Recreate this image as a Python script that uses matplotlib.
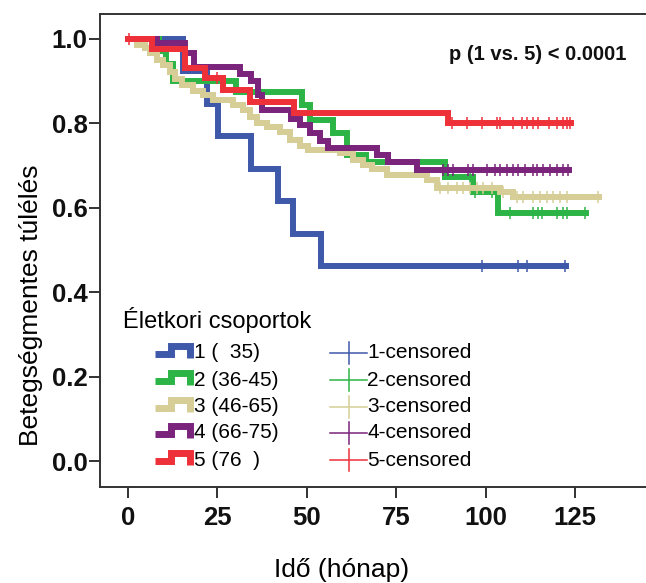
import numpy as np
import matplotlib
matplotlib.use('Agg')
import matplotlib.pyplot as plt
from matplotlib.lines import Line2D

plt.rcParams['font.family'] = ['Liberation Sans', 'DejaVu Sans']

W, H = 646, 583

labels = ['1 (  35)', '2 (36-45)', '3 (46-65)', '4 (66-75)', '5 (76  )']
colors = ['#3E58AA', '#2DB446', '#D6CE96', '#7A247C', '#EE3038']

# event times (months) and survival level after each event
g1_t = [0, 15.5, 22, 25.2, 34.5, 42, 46, 54]
g1_s = [1.0, 0.923, 0.846, 0.769, 0.692, 0.615, 0.538, 0.462]
g1_end = 122.6
g1_cens = [98.9, 109.1, 111.5, 122.2]

g2_t = [0, 8.6, 10.5, 12.6, 30.2, 48.7, 51, 57.3, 61.2, 66.6, 88.7, 96.5, 103.5]
g2_s = [1.0, 0.97, 0.94, 0.90, 0.873, 0.843, 0.807, 0.776, 0.724, 0.708, 0.672, 0.637, 0.587]
g2_end = 128.2
g2_cens = [95.6, 97, 101.8, 106.8, 113.3, 114.7, 115.8, 120, 121.7, 122.7, 127.8]

g3_t = [0, 2.5, 4.8, 6.2, 8.1, 9.8, 11.7, 13.1, 15.1, 18.2, 21, 23.8, 29.4, 32.2, 34.1,
        36.1, 38.9, 42.5, 45.3, 48.1, 50.3, 59.3, 62.9, 65.7, 68.2, 72.4, 83.6, 86.4, 104, 107.7]
g3_s = [1.0, 0.985, 0.977, 0.965, 0.95, 0.937, 0.92, 0.905, 0.89, 0.875, 0.866, 0.854, 0.843, 0.83, 0.815,
        0.80, 0.79, 0.779, 0.76, 0.745, 0.736, 0.729, 0.712, 0.70, 0.69, 0.677, 0.665, 0.645, 0.637, 0.625]
g3_end = 131.6
g3_cens = [87.2, 89.5, 92, 93.7, 95.6, 97.5, 99.3, 101.8, 104.9, 108.8, 110.5, 113.3, 115.2,
           117.2, 118.8, 120.8, 122.8, 131.4]

g4_t = [0, 8, 16, 18.5, 31.3, 34.5, 36.3, 37.5, 45.6, 48, 50.9, 53.7, 56, 69.6, 72.7, 80.8]
g4_s = [1.0, 0.989, 0.966, 0.933, 0.915, 0.90, 0.867, 0.83, 0.81, 0.795, 0.776, 0.757, 0.741, 0.724, 0.708, 0.689]
g4_end = 123.2
g4_cens = [88, 89.5, 91, 95, 96.5, 100.4, 102.6, 104, 106, 107.7, 109, 111, 113.3, 114.4,
           116, 118, 120, 121.7, 123]

g5_t = [0, 6.8, 16, 21.5, 26.5, 34, 46.5, 89.5]
g5_s = [1.0, 0.975, 0.93, 0.906, 0.878, 0.85, 0.824, 0.80]
g5_end = 123.8
g5_cens = [0.3, 25, 90.5, 94.7, 98.9, 103.1, 104.0, 107.7, 110.1, 111.5, 113.3, 114.7,
           117.6, 119.9, 121.7, 122.7, 123.6]

curves = [(g1_t, g1_s, g1_end, g1_cens), (g2_t, g2_s, g2_end, g2_cens),
          (g3_t, g3_s, g3_end, g3_cens), (g4_t, g4_s, g4_end, g4_cens),
          (g5_t, g5_s, g5_end, g5_cens)]

fig = plt.figure(figsize=(W / 100, H / 100), dpi=100)
ax = fig.add_axes([100 / W, 1 - 487 / H, 1 - 100 / W, (487 - 14) / H])

for (t, s, end, cens), col in zip(curves, colors):
    tt = np.append(t, end)
    ss = np.append(s, s[-1])
    ax.step(tt, ss, where='post', color=col, lw=4.3, solid_joinstyle='miter')
    idx = np.searchsorted(t, cens, side='right') - 1
    ax.plot(cens, np.array(s)[idx], ls='none', marker='|', ms=9, mew=1.1, color=col)

ax.set_xlim(-7.83, 144.85)
ax.set_ylim(-0.0615, 1.058)
ax.set_xticks([0, 25, 50, 75, 100, 125])
ax.set_yticks([0.0, 0.2, 0.4, 0.6, 0.8, 1.0])
ax.set_yticklabels(['0.0', '0.2', '0.4', '0.6', '0.8', '1.0'])
ax.tick_params(direction='out', length=8, width=1.3, labelsize=18.5, colors='#222222')
ax.tick_params(axis='y', pad=1)
ax.tick_params(axis='x', pad=6)
for lbl in ax.get_xticklabels() + ax.get_yticklabels():
    lbl.set_fontweight('bold')
    lbl.set_color('#111111')
for side in ['left', 'top', 'bottom']:
    ax.spines[side].set_color('#333333')
    ax.spines[side].set_linewidth(1.4)
ax.spines['right'].set_visible(False)

ax.set_xlabel('Idő (hónap)', fontsize=19)
ax.xaxis.set_label_coords((342 - 100) / 546, (487 - 558) / 473)
ax.set_ylabel('Betegségmentes túlélés', fontsize=19)
ax.yaxis.set_label_coords((43 - 100) / 546, (487 - 305) / 473)

ax.text(89.8, 0.961, 'p (1 vs. 5) < 0.0001', fontsize=14.5, fontweight='bold',
        va='center', ha='left', color='#111111')


# legend drawn in figure pixels
def fx(px):
    return px / W


def fy(py):
    return 1 - py / H


fig.text(fx(123), fy(320), 'Életkori csoportok', fontsize=17, va='center', ha='left')
rows_y = [353, 380, 407, 433, 460]
for lab, col, ry in zip(labels, colors, rows_y):
    xs = [155, 170.5, 170.5, 190, 190]
    ys = [ry + 1, ry + 1, ry - 7.5, ry - 7.5, ry + 4.5]
    fig.add_artist(Line2D([fx(v) for v in xs], [fy(v) for v in ys], color=col, lw=5,
                          transform=fig.transFigure, solid_joinstyle='miter',
                          solid_capstyle='butt'))
    fig.text(fx(194), fy(ry), lab, fontsize=15, va='center', ha='left')
    fig.add_artist(Line2D([fx(330), fx(367)], [fy(ry), fy(ry)], color=col, lw=1.1,
                          transform=fig.transFigure))
    fig.add_artist(Line2D([fx(348.5), fx(348.5)], [fy(ry - 11), fy(ry + 11)], color=col,
                          lw=1.1, transform=fig.transFigure))
    fig.text(fx(367), fy(ry), lab[0] + '-censored', fontsize=15, va='center', ha='left')

fig.savefig('out.png', dpi=100)
